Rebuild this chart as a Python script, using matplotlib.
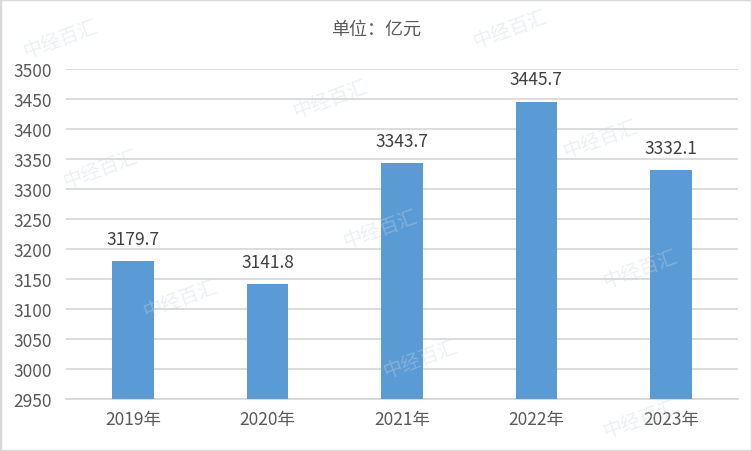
import matplotlib
matplotlib.use("Agg")
import matplotlib.pyplot as plt
from matplotlib.patches import Rectangle

plt.rcParams['font.family'] = ['Noto Sans CJK SC', 'DejaVu Sans']

categories = ["2019年", "2020年", "2021年", "2022年", "2023年"]
values = [3179.7, 3141.8, 3343.7, 3445.7, 3332.1]
yticks = list(range(2950, 3501, 50))
title = "单位：亿元"

W, H = 752, 452
fig = plt.figure(figsize=(W / 100, H / 100), dpi=100)
fig.patch.set_facecolor("white")

left, right, top, bottom = 66, 738, 70, 400
ax = fig.add_axes([left / W, 1 - bottom / H, (right - left) / W, (bottom - top) / H])

text_col = "#595959"
grid_col = "#d9d9d9"
bar_col = "#5b9bd5"

x = list(range(len(categories)))
ax.bar(x, [v - 2950 for v in values], bottom=2950, width=0.31, color=bar_col, zorder=3)
for xi, v in zip(x, values):
    ax.text(xi, v + 22, f"{v:.1f}", ha="center", va="bottom", fontsize=12.5, color="#404040", zorder=4)

ax.set_xlim(-0.5, len(categories) - 0.5)
ax.set_ylim(2950, 3500)
ax.set_yticks(yticks)
ax.set_yticklabels([str(t) for t in yticks], fontsize=12.5, color=text_col)
ax.set_xticks(x)
ax.set_xticklabels(categories, fontsize=12.5, color=text_col)
ax.tick_params(axis="both", length=0)
ax.tick_params(axis="y", pad=10)
ax.tick_params(axis="x", pad=8)
ax.grid(axis="y", color=grid_col, linewidth=1.3, zorder=0)
for s in ["top", "right", "left"]:
    ax.spines[s].set_visible(False)
ax.spines["bottom"].set_color(grid_col)
ax.spines["bottom"].set_linewidth(1.3)

fig.text(376 / W, 1 - 30 / H, title, ha="center", va="center", fontsize=13, color=text_col)

# faint watermarks
wm = [(60, 40), (330, 100), (100, 170), (600, 140), (380, 230), (180, 300), (640, 270), (420, 360), (640, 420), (510, 30)]
for wx, wy in wm:
    fig.text(wx / W, 1 - wy / H, "中经百汇", ha="center", va="center", fontsize=14,
             color="#c8d6e3", alpha=0.35, rotation=20, zorder=0)

fig.add_artist(Rectangle((0, 0), 1, 1, transform=fig.transFigure, fill=False,
                         edgecolor="#d9d9d9", linewidth=2.5))

fig.savefig("out.png", dpi=100)
